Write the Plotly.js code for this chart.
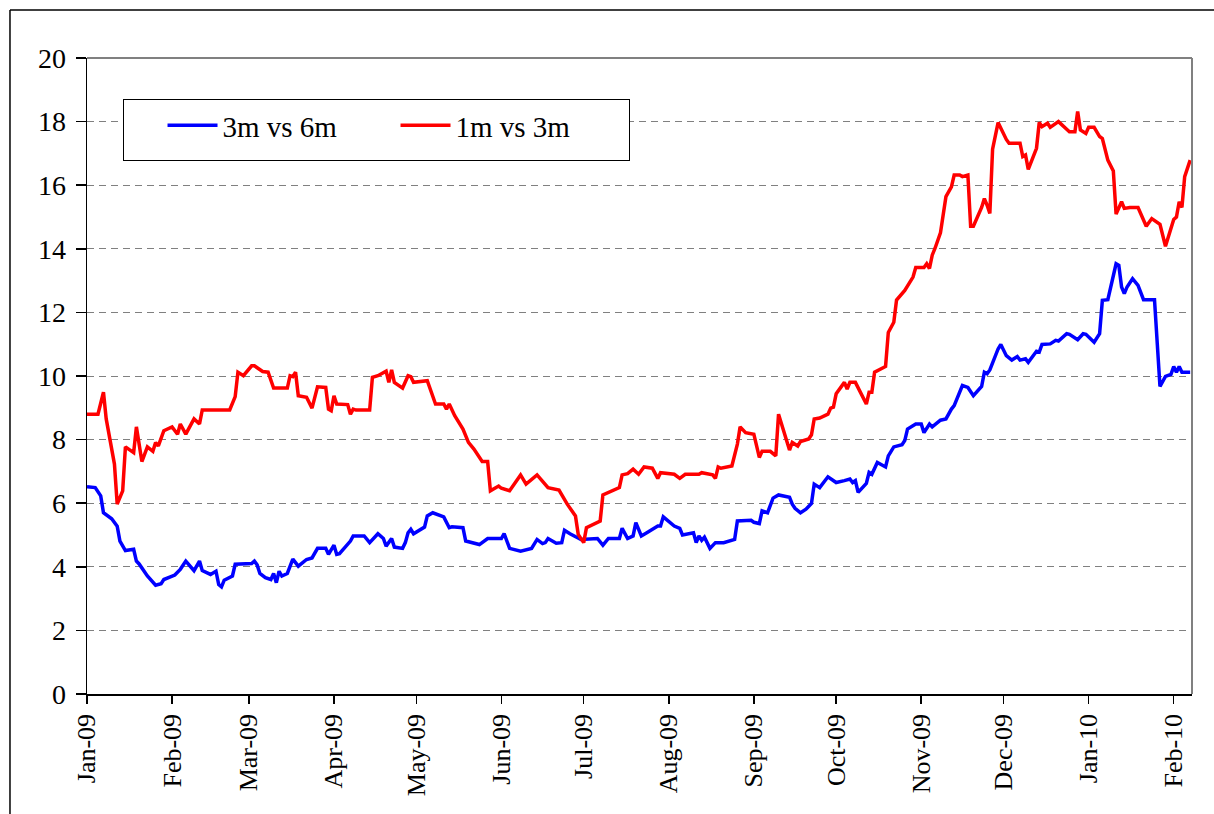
<!DOCTYPE html>
<html>
<head>
<meta charset="utf-8">
<script src="https://cdn.plot.ly/plotly-3.0.1.min.js"></script>
<style>html,body{margin:0;padding:0;background:#fff;}#chart{width:1214px;height:814px;}</style>
</head>
<body>
<div id="chart"></div>
<script>
// Series: "3m vs 6m"
const blueDates = [
"2009-01-01","2009-01-04","2009-01-06","2009-01-07","2009-01-10","2009-01-12","2009-01-13","2009-01-15","2009-01-18","2009-01-19",
"2009-01-20","2009-01-23","2009-01-26","2009-01-28","2009-01-29","2009-02-02","2009-02-04","2009-02-06","2009-02-09","2009-02-11",
"2009-02-12","2009-02-15","2009-02-17","2009-02-18","2009-02-19","2009-02-20","2009-02-23","2009-02-24","2009-03-02","2009-03-03",
"2009-03-04","2009-03-05","2009-03-07","2009-03-09","2009-03-10","2009-03-11","2009-03-12","2009-03-13","2009-03-15","2009-03-17",
"2009-03-19","2009-03-22","2009-03-24","2009-03-26","2009-03-29","2009-03-30","2009-04-01","2009-04-02","2009-04-03","2009-04-07",
"2009-04-08","2009-04-12","2009-04-14","2009-04-17","2009-04-19","2009-04-20","2009-04-22","2009-04-23","2009-04-26","2009-04-27",
"2009-04-28","2009-04-29","2009-04-30","2009-05-04","2009-05-05","2009-05-07","2009-05-11","2009-05-13","2009-05-14","2009-05-18",
"2009-05-19","2009-05-24","2009-05-27","2009-06-01","2009-06-02","2009-06-04","2009-06-08","2009-06-12","2009-06-14","2009-06-16",
"2009-06-17","2009-06-18","2009-06-21","2009-06-23","2009-06-24","2009-06-26","2009-06-30","2009-07-06","2009-07-08","2009-07-10",
"2009-07-14","2009-07-15","2009-07-17","2009-07-19","2009-07-20","2009-07-22","2009-07-24","2009-07-28","2009-07-29","2009-07-30",
"2009-08-03","2009-08-05","2009-08-06","2009-08-10","2009-08-11","2009-08-12","2009-08-13","2009-08-14","2009-08-16","2009-08-18",
"2009-08-21","2009-08-25","2009-08-26","2009-08-31","2009-09-01","2009-09-03","2009-09-04","2009-09-06","2009-09-08","2009-09-10",
"2009-09-14","2009-09-15","2009-09-16","2009-09-18","2009-09-20","2009-09-22","2009-09-23","2009-09-25","2009-09-28","2009-10-01",
"2009-10-04","2009-10-06","2009-10-07","2009-10-08","2009-10-09","2009-10-12","2009-10-13","2009-10-14","2009-10-16","2009-10-19",
"2009-10-20","2009-10-22","2009-10-25","2009-10-26","2009-10-27","2009-10-30","2009-11-01","2009-11-02","2009-11-04","2009-11-05",
"2009-11-08","2009-11-10","2009-11-12","2009-11-13","2009-11-16","2009-11-18","2009-11-20","2009-11-23","2009-11-24","2009-11-25",
"2009-11-26","2009-11-27","2009-11-29","2009-11-30","2009-12-02","2009-12-04","2009-12-06","2009-12-07","2009-12-09","2009-12-10",
"2009-12-13","2009-12-14","2009-12-15","2009-12-18","2009-12-20","2009-12-21","2009-12-24","2009-12-25","2009-12-28","2009-12-30",
"2009-12-31","2010-01-03","2010-01-05","2010-01-06","2010-01-08","2010-01-11","2010-01-12","2010-01-13","2010-01-14","2010-01-15",
"2010-01-17","2010-01-19","2010-01-21","2010-01-25","2010-01-26","2010-01-27","2010-01-29","2010-01-31","2010-02-01","2010-02-02",
"2010-02-03","2010-02-04","2010-02-07"
];
const blueValues = [
6.52,6.49,6.23,5.70,5.51,5.28,4.81,4.51,4.55,4.18,
4.09,3.71,3.42,3.47,3.60,3.74,3.92,4.18,3.88,4.18,
3.88,3.76,3.86,3.44,3.37,3.58,3.71,4.08,4.10,4.18,
4.06,3.79,3.66,3.60,3.79,3.50,3.86,3.71,3.79,4.24,
4.02,4.23,4.28,4.58,4.58,4.39,4.68,4.39,4.41,4.81,
4.97,4.97,4.76,5.04,4.89,4.65,4.89,4.62,4.58,4.76,
5.07,5.18,5.04,5.25,5.60,5.70,5.57,5.23,5.26,5.23,
4.81,4.70,4.89,4.89,5.04,4.58,4.49,4.58,4.86,4.73,
4.76,4.89,4.74,4.76,5.15,5.04,4.86,4.89,4.68,4.89,
4.89,5.21,4.89,4.97,5.39,4.97,5.07,5.28,5.28,5.57,
5.28,5.21,5.00,5.07,4.76,4.97,4.83,4.93,4.58,4.76,
4.76,4.86,5.44,5.46,5.40,5.36,5.76,5.70,6.16,6.26,
6.19,5.97,5.84,5.70,5.81,5.99,6.60,6.49,6.83,6.65,
6.71,6.76,6.65,6.71,6.34,6.62,6.97,6.91,7.28,7.14,
7.49,7.77,7.84,7.97,8.33,8.49,8.49,8.22,8.49,8.40,
8.61,8.65,8.96,9.07,9.70,9.64,9.38,9.67,10.12,10.07,
10.19,10.43,10.85,10.99,10.64,10.50,10.61,10.50,10.54,10.43,
10.78,10.75,10.99,11.01,11.12,11.10,11.33,11.31,11.14,11.33,
11.31,11.06,11.33,12.38,12.40,13.53,13.48,12.80,12.59,12.80,
13.06,12.85,12.40,12.40,11.06,9.67,9.99,10.05,10.30,10.12,
10.30,10.12,10.12
];

// Series: "1m vs 3m"
const redDates = [
"2009-01-01","2009-01-05","2009-01-07","2009-01-08","2009-01-11","2009-01-12","2009-01-14","2009-01-15","2009-01-18","2009-01-19",
"2009-01-21","2009-01-23","2009-01-25","2009-01-26","2009-01-27","2009-01-29","2009-02-01","2009-02-03","2009-02-04","2009-02-06",
"2009-02-09","2009-02-11","2009-02-12","2009-02-22","2009-02-24","2009-02-25","2009-02-27","2009-03-02","2009-03-03","2009-03-06",
"2009-03-08","2009-03-10","2009-03-15","2009-03-16","2009-03-17","2009-03-18","2009-03-19","2009-03-22","2009-03-24","2009-03-26",
"2009-03-29","2009-03-30","2009-03-31","2009-04-01","2009-04-02","2009-04-06","2009-04-07","2009-04-08","2009-04-09","2009-04-14",
"2009-04-15","2009-04-17","2009-04-20","2009-04-21","2009-04-22","2009-04-23","2009-04-26","2009-04-28","2009-04-29","2009-04-30",
"2009-05-05","2009-05-08","2009-05-11","2009-05-12","2009-05-13","2009-05-15","2009-05-18","2009-05-20","2009-05-22","2009-05-24",
"2009-05-25","2009-05-27","2009-05-28","2009-05-31","2009-06-01","2009-06-04","2009-06-08","2009-06-10","2009-06-14","2009-06-18",
"2009-06-22","2009-06-25","2009-06-28","2009-06-29","2009-07-01","2009-07-02","2009-07-07","2009-07-08","2009-07-14","2009-07-15",
"2009-07-17","2009-07-19","2009-07-21","2009-07-23","2009-07-26","2009-07-28","2009-07-29","2009-08-03","2009-08-05","2009-08-07",
"2009-08-12","2009-08-13","2009-08-17","2009-08-18","2009-08-19","2009-08-20","2009-08-24","2009-08-26","2009-08-27","2009-08-29",
"2009-09-01","2009-09-03","2009-09-04","2009-09-07","2009-09-09","2009-09-10","2009-09-12","2009-09-14","2009-09-15","2009-09-17",
"2009-09-18","2009-09-21","2009-09-22","2009-09-23","2009-09-25","2009-09-28","2009-09-29","2009-09-30","2009-10-01","2009-10-04",
"2009-10-05","2009-10-06","2009-10-08","2009-10-12","2009-10-13","2009-10-14","2009-10-15","2009-10-19","2009-10-20","2009-10-22",
"2009-10-23","2009-10-26","2009-10-29","2009-10-30","2009-11-02","2009-11-03","2009-11-04","2009-11-05","2009-11-06","2009-11-08",
"2009-11-10","2009-11-11","2009-11-12","2009-11-13","2009-11-15","2009-11-16","2009-11-18","2009-11-19","2009-11-20","2009-11-23",
"2009-11-24","2009-11-25","2009-11-26","2009-11-27","2009-11-29","2009-12-02","2009-12-03","2009-12-07","2009-12-08","2009-12-09",
"2009-12-10","2009-12-13","2009-12-14","2009-12-15","2009-12-17","2009-12-18","2009-12-21","2009-12-24","2009-12-25","2009-12-27",
"2009-12-28","2009-12-29","2009-12-31","2010-01-01","2010-01-03","2010-01-05","2010-01-06","2010-01-08","2010-01-10","2010-01-11",
"2010-01-13","2010-01-14","2010-01-16","2010-01-19","2010-01-22","2010-01-24","2010-01-27","2010-01-29","2010-02-01","2010-02-02",
"2010-02-03","2010-02-04","2010-02-05","2010-02-07"
];
const redValues = [
8.80,8.80,9.49,8.65,7.23,5.97,6.39,7.77,7.59,8.40,
7.31,7.77,7.63,7.91,7.80,8.28,8.40,8.17,8.49,8.17,
8.65,8.49,8.93,8.93,9.35,10.12,10.01,10.32,10.32,10.14,
10.12,9.62,9.62,10.01,9.98,10.12,9.38,9.33,8.99,9.66,
9.64,8.96,8.91,9.38,9.12,9.10,8.80,8.96,8.93,8.93,
9.96,10.01,10.15,9.80,10.19,9.80,9.62,10.01,9.98,9.80,
9.85,9.12,9.12,8.96,9.12,8.75,8.33,7.91,7.70,7.46,
7.31,7.31,6.39,6.54,6.47,6.39,6.89,6.60,6.89,6.49,
6.41,5.97,5.60,5.02,4.76,5.23,5.44,6.26,6.49,6.89,
6.93,7.07,6.91,7.14,7.10,6.78,6.96,6.91,6.78,6.91,
6.91,6.96,6.89,6.78,7.14,7.10,7.17,7.86,8.40,8.22,
8.17,7.44,7.63,7.63,7.49,8.80,8.22,7.67,7.91,7.80,
7.94,8.02,8.15,8.65,8.68,8.80,8.99,9.02,9.44,9.80,
9.59,9.80,9.80,9.12,9.49,9.49,10.12,10.30,11.37,11.69,
12.39,12.69,13.11,13.41,13.41,13.53,13.38,13.80,14.01,14.50,
15.64,15.79,15.95,16.32,16.32,16.27,16.32,14.71,14.71,15.30,
15.58,15.37,15.11,17.13,17.97,17.44,17.32,17.32,16.90,16.95,
16.50,17.16,17.97,17.84,17.95,17.82,18.00,17.76,17.68,17.68,
18.32,17.74,17.63,17.82,17.82,17.53,17.47,16.79,16.45,15.09,
15.48,15.27,15.30,15.30,14.71,14.95,14.77,14.08,14.92,15.00,
15.48,15.30,16.27,16.79
];

const seriesNames = ["3m vs 6m", "1m vs 3m"];
const yTickValues = [0, 2, 4, 6, 8, 10, 12, 14, 16, 18, 20];
const xRange = ["2009-01-01", "2010-02-07 16:00"];

const FONT = "Liberation Serif, Times New Roman, serif";

const traces = [
  {x: blueDates, y: blueValues, name: seriesNames[0], type: "scatter", mode: "lines",
   line: {color: "#0000FF", width: 3.5}},
  {x: redDates, y: redValues, name: seriesNames[1], type: "scatter", mode: "lines",
   line: {color: "#FF0000", width: 3.5}}
];

const layout = {
  width: 1214, height: 814,
  margin: {l: 87, r: 22, t: 58, b: 120, pad: 0},
  paper_bgcolor: "#ffffff", plot_bgcolor: "#ffffff",
  font: {family: FONT, color: "#000000", size: 26},
  showlegend: true,
  legend: {
    orientation: "h", x: 0.0326, y: 0.9355, xanchor: "left", yanchor: "top",
    bgcolor: "#ffffff", bordercolor: "#000000", borderwidth: 1,
    font: {family: FONT, size: 29, color: "#000000"},
    title: {text: "\u00a0\u00a0\u00a0", side: "left", font: {family: FONT, size: 38}},
    entrywidth: 168, entrywidthmode: "pixels", itemwidth: 50
  },
  xaxis: {
    type: "date", range: xRange, tick0: "2009-01-01", dtick: "M1", tickformat: "%b-%y",
    tickangle: -90, ticks: "outside", ticklen: 8, tickwidth: 1.5, tickcolor: "#000000",
    showgrid: false, zeroline: false, showline: true, linecolor: "#000000", linewidth: 1.5,
    tickfont: {family: FONT, size: 26, color: "#000000"}, fixedrange: true
  },
  yaxis: {
    range: [0, 20], tickvals: yTickValues, ticks: "outside", ticklen: 10, tickwidth: 1.5,
    tickcolor: "#000000", showline: true, linecolor: "#000000", linewidth: 1.5,
    showgrid: true, gridcolor: "#808080", gridwidth: 1, griddash: "7px,5px",
    zeroline: false, tickfont: {family: FONT, size: 28, color: "#000000"},
    ticklabelstandoff: 4, fixedrange: true
  },
  shapes: [
    {type: "line", xref: "paper", yref: "paper", x0: 0, x1: 1, y0: 1, y1: 1,
     line: {color: "#808080", width: 2}},
    {type: "line", xref: "paper", yref: "paper", x0: 1, x1: 1, y0: 0, y1: 1,
     line: {color: "#808080", width: 2}},
    {type: "line", xref: "paper", yref: "paper", x0: -0.0697, x1: 1.03, y0: 1.0755, y1: 1.0755,
     line: {color: "#000000", width: 1.5}},
    {type: "line", xref: "paper", yref: "paper", x0: -0.0697, x1: -0.0697, y0: 1.0755, y1: -0.2,
     line: {color: "#000000", width: 1.5}}
  ]
};

Plotly.newPlot("chart", traces, layout, {displayModeBar: false, staticPlot: true});
</script>
</body>
</html>
